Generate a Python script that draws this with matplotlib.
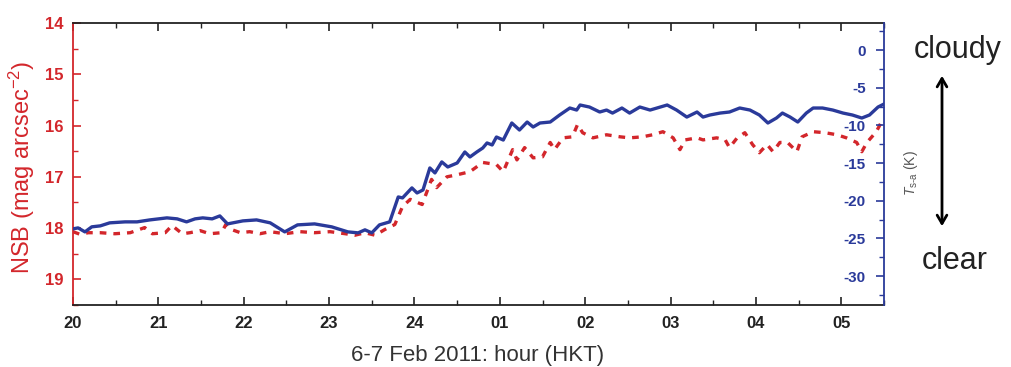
import matplotlib
matplotlib.use("Agg")
import matplotlib.pyplot as plt
from matplotlib.ticker import MultipleLocator, FixedLocator

plt.rcParams['font.family'] = ['Liberation Sans', 'DejaVu Sans']
plt.rcParams['mathtext.fontset'] = 'custom'
plt.rcParams['mathtext.rm'] = 'Liberation Sans'
plt.rcParams['mathtext.it'] = 'Liberation Sans:italic'
plt.rcParams['axes.unicode_minus'] = False

# ---- data (hours after 20:00 on 6 Feb expressed as 20..29.5) ----
hour_ticks = [20, 21, 22, 23, 24, 25, 26, 27, 28, 29]
hour_labels = ['20', '21', '22', '23', '24', '01', '02', '03', '04', '05']

tsa_hours = [20.00, 20.06, 20.14, 20.22, 20.32, 20.43, 20.61, 20.75, 20.90, 21.10,
             21.22, 21.33, 21.43, 21.52, 21.63, 21.72, 21.81, 21.99, 22.15, 22.31,
             22.48, 22.63, 22.83, 23.03, 23.22, 23.34, 23.42, 23.50, 23.59, 23.71,
             23.81, 23.86, 23.97, 24.03, 24.10, 24.18, 24.24, 24.32, 24.39, 24.50,
             24.59, 24.65, 24.73, 24.80, 24.85, 24.91, 24.96, 25.04, 25.14, 25.23,
             25.32, 25.39, 25.47, 25.59, 25.70, 25.82, 25.90, 25.94, 26.05, 26.17,
             26.25, 26.32, 26.43, 26.52, 26.64, 26.76, 26.96, 27.07, 27.19, 27.31,
             27.38, 27.46, 27.58, 27.69, 27.81, 27.93, 28.04, 28.14, 28.24, 28.31,
             28.40, 28.49, 28.59, 28.67, 28.78, 28.90, 29.02, 29.13, 29.24, 29.33,
             29.43, 29.50]
tsa_values = [-23.74, -23.61, -24.14, -23.47, -23.34, -22.94, -22.81, -22.81, -22.55, -22.28,
              -22.41, -22.81, -22.41, -22.28, -22.41, -22.02, -23.08, -22.68, -22.55, -22.94,
              -24.14, -23.21, -23.08, -23.47, -24.14, -24.27, -23.87, -24.27, -23.21, -22.81,
              -19.50, -19.63, -18.30, -18.97, -18.57, -15.65, -16.31, -14.85, -15.52, -14.99,
              -13.53, -14.19, -13.53, -13.00, -12.33, -12.60, -11.54, -11.94, -9.68, -10.61,
              -9.55, -10.21, -9.68, -9.55, -8.62, -7.69, -7.96, -7.29, -7.56, -8.22,
              -7.96, -8.36, -7.69, -8.36, -7.56, -7.96, -7.29, -7.96, -8.89, -8.22,
              -8.89, -8.62, -8.36, -8.22, -7.69, -7.96, -8.62, -9.68, -9.02, -8.36,
              -8.89, -9.55, -8.36, -7.69, -7.69, -7.96, -8.36, -8.62, -9.02, -8.62,
              -7.56, -7.16]

nsb_hours = [20.00, 20.08, 20.18, 20.32, 20.49, 20.67, 20.84, 20.93, 21.08, 21.16,
             21.28, 21.37, 21.49, 21.60, 21.74, 21.79, 21.86, 21.96, 22.07, 22.19,
             22.31, 22.48, 22.66, 22.83, 23.01, 23.19, 23.30, 23.42, 23.54, 23.65,
             23.77, 23.86, 23.95, 24.09, 24.20, 24.26, 24.38, 24.50, 24.65, 24.80,
             24.96, 25.04, 25.15, 25.20, 25.29, 25.39, 25.50, 25.59, 25.64, 25.74,
             25.85, 25.91, 25.97, 26.09, 26.25, 26.41, 26.52, 26.67, 26.79, 26.91,
             27.03, 27.11, 27.17, 27.31, 27.38, 27.54, 27.64, 27.69, 27.78, 27.87,
             27.96, 28.04, 28.13, 28.20, 28.28, 28.37, 28.48, 28.54, 28.67, 28.81,
             28.95, 29.06, 29.18, 29.24, 29.30, 29.41, 29.47]
nsb_values = [18.07, 18.12, 18.09, 18.09, 18.11, 18.09, 17.99, 18.11, 18.09, 17.95,
              18.11, 18.09, 18.05, 18.11, 18.09, 17.93, 18.03, 18.09, 18.07, 18.11,
              18.07, 18.11, 18.07, 18.09, 18.07, 18.11, 18.14, 18.09, 18.14, 18.03,
              17.93, 17.58, 17.44, 17.54, 17.05, 17.21, 17.00, 16.96, 16.90, 16.72,
              16.76, 16.90, 16.47, 16.67, 16.43, 16.63, 16.61, 16.33, 16.47, 16.24,
              16.22, 15.98, 16.14, 16.24, 16.18, 16.22, 16.24, 16.22, 16.18, 16.12,
              16.24, 16.47, 16.28, 16.24, 16.28, 16.24, 16.28, 16.43, 16.24, 16.14,
              16.37, 16.53, 16.37, 16.51, 16.33, 16.33, 16.51, 16.22, 16.12, 16.14,
              16.18, 16.24, 16.33, 16.51, 16.33, 16.12, 15.93]

nsb_ticks = [14, 15, 16, 17, 18, 19]
tsa_ticks = [0, -5, -10, -15, -20, -25, -30]

RED = '#d3262b'
BLUE = '#2a3a9a'

W, H = 1012, 367
fig = plt.figure(figsize=(W / 100, H / 100), dpi=100)
ax = fig.add_axes([73 / W, 1 - 305 / H, (884 - 73) / W, (305 - 23) / H])
ax2 = ax.twinx()

ax.plot(nsb_hours, nsb_values, color=RED, lw=2.4, dashes=(2.0, 2.1))
ax2.plot(tsa_hours, tsa_values, color=BLUE, lw=2.4)

ax.set_xlim(20, 29.5)
ax.set_ylim(19.5, 14)
ax2.set_ylim(-33.85, 3.6)

# spines
ax.spines['right'].set_visible(False)
ax.spines['left'].set_color(RED)
for s in ['top', 'bottom']:
    ax.spines[s].set_color('#222222')
for s in ['left', 'top', 'bottom']:
    ax2.spines[s].set_visible(False)
ax2.spines['right'].set_color(BLUE)
for s in ax.spines.values():
    s.set_linewidth(1.3)
ax2.spines['right'].set_linewidth(1.3)

# x ticks
ax.xaxis.set_major_locator(FixedLocator(hour_ticks))
ax.set_xticklabels(hour_labels)
ax.xaxis.set_minor_locator(MultipleLocator(0.5))
ax.tick_params(axis='x', which='both', direction='in', top=True, color='#222222',
               labelsize=12, pad=8)
ax.tick_params(axis='x', which='major', length=6, width=1.2)
ax.tick_params(axis='x', which='minor', length=3.5, width=1.0)
for t in ax.get_xticklabels():
    t.set_fontweight('bold')
    t.set_color('#222222')

# left y
ax.yaxis.set_major_locator(FixedLocator(nsb_ticks))
ax.yaxis.set_minor_locator(MultipleLocator(0.5))
ax.tick_params(axis='y', which='both', direction='in', color=RED, labelcolor=RED,
               labelsize=12, pad=7)
ax.tick_params(axis='y', which='major', length=6, width=1.2)
ax.tick_params(axis='y', which='minor', length=3.5, width=1.0)
for t in ax.get_yticklabels():
    t.set_fontweight('bold')

# right y (labels inside the axes)
ax2.yaxis.set_major_locator(FixedLocator(tsa_ticks))
ax2.yaxis.set_minor_locator(MultipleLocator(2.5))
ax2.tick_params(axis='y', which='both', direction='in', color=BLUE, labelcolor=BLUE,
                labelsize=11, pad=-13)
ax2.tick_params(axis='y', which='major', length=6, width=1.2)
ax2.tick_params(axis='y', which='minor', length=3.5, width=1.0)
for t in ax2.get_yticklabels():
    t.set_fontweight('bold')
    t.set_horizontalalignment('right')

# axis labels
fig.text(478 / W, 1 - 355 / H, '6-7 Feb 2011: hour (HKT)', ha='center', va='center',
         fontsize=16, color='#333333')
fig.text(22 / W, 1 - 167 / H, r'NSB (mag arcsec$^{-2}$)', ha='center', va='center',
         rotation=90, fontsize=17, color=RED)
fig.text(911 / W, 1 - 173 / H, r'$T_{\mathrm{s{\text{-}}a}}$ (K)', ha='center', va='center',
         rotation=90, fontsize=10, color='#555555')

# cloudy / clear annotation
fig.text(958 / W, 1 - 50 / H, 'cloudy', ha='center', va='center', fontsize=22, color='#222222')
fig.text(955 / W, 1 - 261 / H, 'clear', ha='center', va='center', fontsize=22, color='#222222')
fig.patches.append(matplotlib.patches.FancyArrowPatch(
    (942 / W, 1 - 229 / H), (942 / W, 1 - 73 / H), transform=fig.transFigure,
    arrowstyle='<->,head_length=6,head_width=3.5', lw=2, color='black'))

fig.savefig('out.png', dpi=100)
